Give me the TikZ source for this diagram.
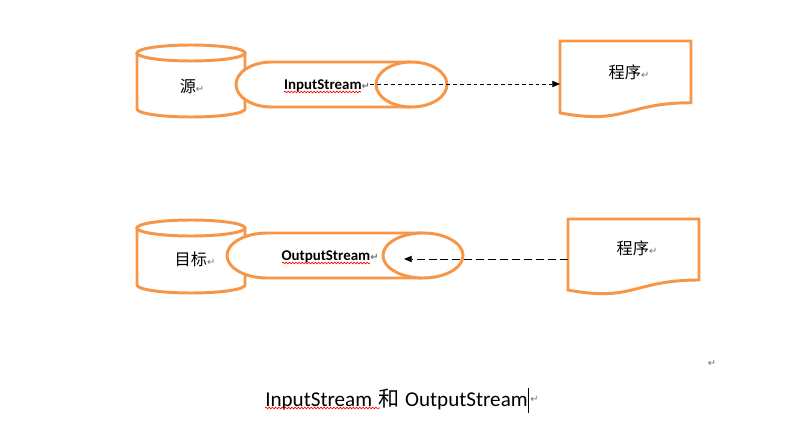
\documentclass[tikz,border=0pt]{standalone}
\usepackage{fontspec}
\setmainfont{Carlito}
\newfontfamily\cjk{Noto Sans CJK SC}
\newfontfamily\symbolfont{DejaVu Sans}
\usetikzlibrary{arrows.meta,decorations.pathmorphing}
\definecolor{accent}{HTML}{F79646}
\newcommand{\retmark}{{\symbolfont\color{gray!90!black}\fontsize{7}{7}\selectfont ↵}}

\begin{document}
\begin{tikzpicture}[x=0.025cm,y=0.025cm,
    orangeline/.style={draw=accent,line width=2.1pt,fill=white},
    cjktext/.style={font=\cjk\fontsize{11.5}{12}\selectfont,inner sep=0pt},
    pipetext/.style={font=\fontsize{10.6}{12}\selectfont\bfseries,inner sep=0pt},
    flow/.style={line width=0.6pt,-{Triangle[length=5.5pt,width=4.5pt]}},
    squiggle/.style={red,line width=0.45pt,decorate,
      decoration={snake,segment length=2.3pt,amplitude=0.6pt}}]
  \useasboundingbox (0,0) rectangle (809,-428);
  % upper row: source, pipe, program
  \draw[orangeline] (137,-53) -- (137,-109)
    arc[start angle=180,end angle=360,x radius=54,y radius=8] -- (245,-53);
  \draw[orangeline] (191,-53) ellipse [x radius=54,y radius=8];
  \draw[orangeline] (411.5,-62) -- (271.5,-62)
    arc[start angle=90,end angle=270,x radius=35.5,y radius=22.5] -- (411.5,-107);
  \draw[orangeline] (411.5,-84.5) ellipse [x radius=35.5,y radius=22.5];
  \draw[orangeline] (560,-41) -- (691,-41) -- (691,-102.75)
    .. controls (625.5,-102.75) and (625.5,-125.2) .. (560,-112.9) -- cycle;
  % lower row: target, pipe, program
  \draw[orangeline] (137,-228) -- (137,-285)
    arc[start angle=180,end angle=360,x radius=54,y radius=8] -- (245,-228);
  \draw[orangeline] (191,-228) ellipse [x radius=54,y radius=8];
  \draw[orangeline] (423,-233) -- (267,-233)
    arc[start angle=90,end angle=270,x radius=40,y radius=22.5] -- (423,-278);
  \draw[orangeline] (423,-255.5) ellipse [x radius=40,y radius=22.5];
  \draw[orangeline] (568,-219) -- (699,-219) -- (699,-280)
    .. controls (633.5,-280) and (633.5,-302.2) .. (568,-290) -- cycle;
  % texts
  \draw
    (192,-86) node[cjktext] (src){源\retmark}
    (327,-85.5) node[pipetext] (inpipe){InputStream\retmark}
    (629,-72) node[cjktext] (prog1){程序\retmark}
    (195,-259) node[cjktext] (dst){目标\retmark}
    (330,-256.5) node[pipetext] (outpipe){OutputStream\retmark}
    (637,-248) node[cjktext] (prog2){程序\retmark}
    (712,-363) node[inner sep=0pt] (blank){\retmark}
    (265,-399) node[anchor=west,inner sep=0pt,font=\fontsize{15}{18}\selectfont]
      (caption){InputStream\hspace{0.28em}{\cjk 和}\hspace{0.28em}OutputStream}
    (caption.east) node[anchor=west,inner sep=1.5pt] (capmark){\retmark};
  \coordinate (doc1) at (560,-84);
  \coordinate (doc2) at (568,-259);
  \coordinate (outend) at (404,-259);
  % connectors
  \begin{scope}[flow]
    \draw[dash pattern=on 2.8pt off 2.1pt] (inpipe.east |- doc1) to (doc1);
    \draw[dash pattern=on 5.7pt off 2.8pt] (doc2) to (outend);
  \end{scope}
  % spelling marks and cursor
  \draw[squiggle] (284,-92) -- (361,-92);
  \draw[squiggle] (282,-263) -- (370,-263);
  \draw[squiggle] (265,-408) -- (380,-408);
  \draw[line width=0.6pt] ([xshift=0.5pt]caption.north east) -- ([xshift=0.5pt,yshift=-2pt]caption.south east);
\end{tikzpicture}
\end{document}
